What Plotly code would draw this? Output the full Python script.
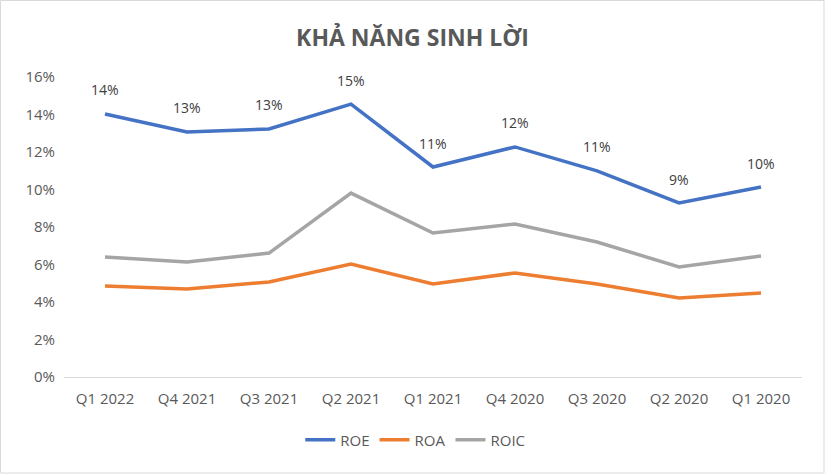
import plotly.graph_objects as go

quarters = ["Q1 2022", "Q4 2021", "Q3 2021", "Q2 2021", "Q1 2021", "Q4 2020", "Q3 2020", "Q2 2020", "Q1 2020"]
roe = [0.1403, 0.1307, 0.1323, 0.1455, 0.1120, 0.1227, 0.1099, 0.0928, 0.1013]
roa = [0.0485, 0.0469, 0.0507, 0.0603, 0.0496, 0.0555, 0.0496, 0.0421, 0.0448]
roic = [0.0640, 0.0613, 0.0661, 0.0981, 0.0768, 0.0816, 0.0720, 0.0587, 0.0645]

font_family = "Open Sans, Noto Sans, sans-serif"
txt_color = "#595959"

fig = go.Figure()
fig.add_trace(go.Scatter(x=quarters, y=roe, name="ROE", mode="lines",
                         line=dict(color="#4472C4", width=3.5)))
fig.add_trace(go.Scatter(x=quarters, y=roa, name="ROA", mode="lines",
                         line=dict(color="#ED7D31", width=3.5)))
fig.add_trace(go.Scatter(x=quarters, y=roic, name="ROIC", mode="lines",
                         line=dict(color="#A5A5A5", width=3.5)))

for q, v in zip(quarters, roe):
    fig.add_annotation(x=q, y=v, text=f"{v:.0%}", showarrow=False, yshift=24,
                       font=dict(size=14, color="#404040", family=font_family))

fig.update_layout(
    width=825, height=474,
    margin=dict(l=64, r=23, t=77, b=97),
    paper_bgcolor="white", plot_bgcolor="white",
    font=dict(family=font_family, size=14, color=txt_color),
    title=dict(text="<b>KHẢ NĂNG SINH LỜI</b>", x=0.5, xanchor="center", y=0.92, yanchor="middle",
               font=dict(size=23, color=txt_color, family=font_family)),
    showlegend=True,
    legend=dict(orientation="h", x=0.476, xanchor="center", y=-0.21, yanchor="middle",
                font=dict(size=15, color=txt_color)),
    xaxis=dict(type="category", range=[-0.5, 8.5], showgrid=False, showline=True,
               linecolor="#D9D9D9", linewidth=1, ticks="", ticklabelstandoff=8,
               tickfont=dict(size=15)),
    yaxis=dict(range=[0, 0.16], dtick=0.02, tickformat=".0%", showgrid=False,
               zeroline=False, showline=False, ticks="", ticklabelstandoff=8,
               tickfont=dict(size=15)),
    shapes=[dict(type="rect", xref="paper", yref="paper", x0=-63.5/738, x1=1+22/738,
                 y0=-96/300, y1=1+76.5/300, line=dict(color="#D9D9D9", width=1))],
)

fig.write_html("out.html", config={"displayModeBar": False},
               post_script="document.body.style.margin='0';")
